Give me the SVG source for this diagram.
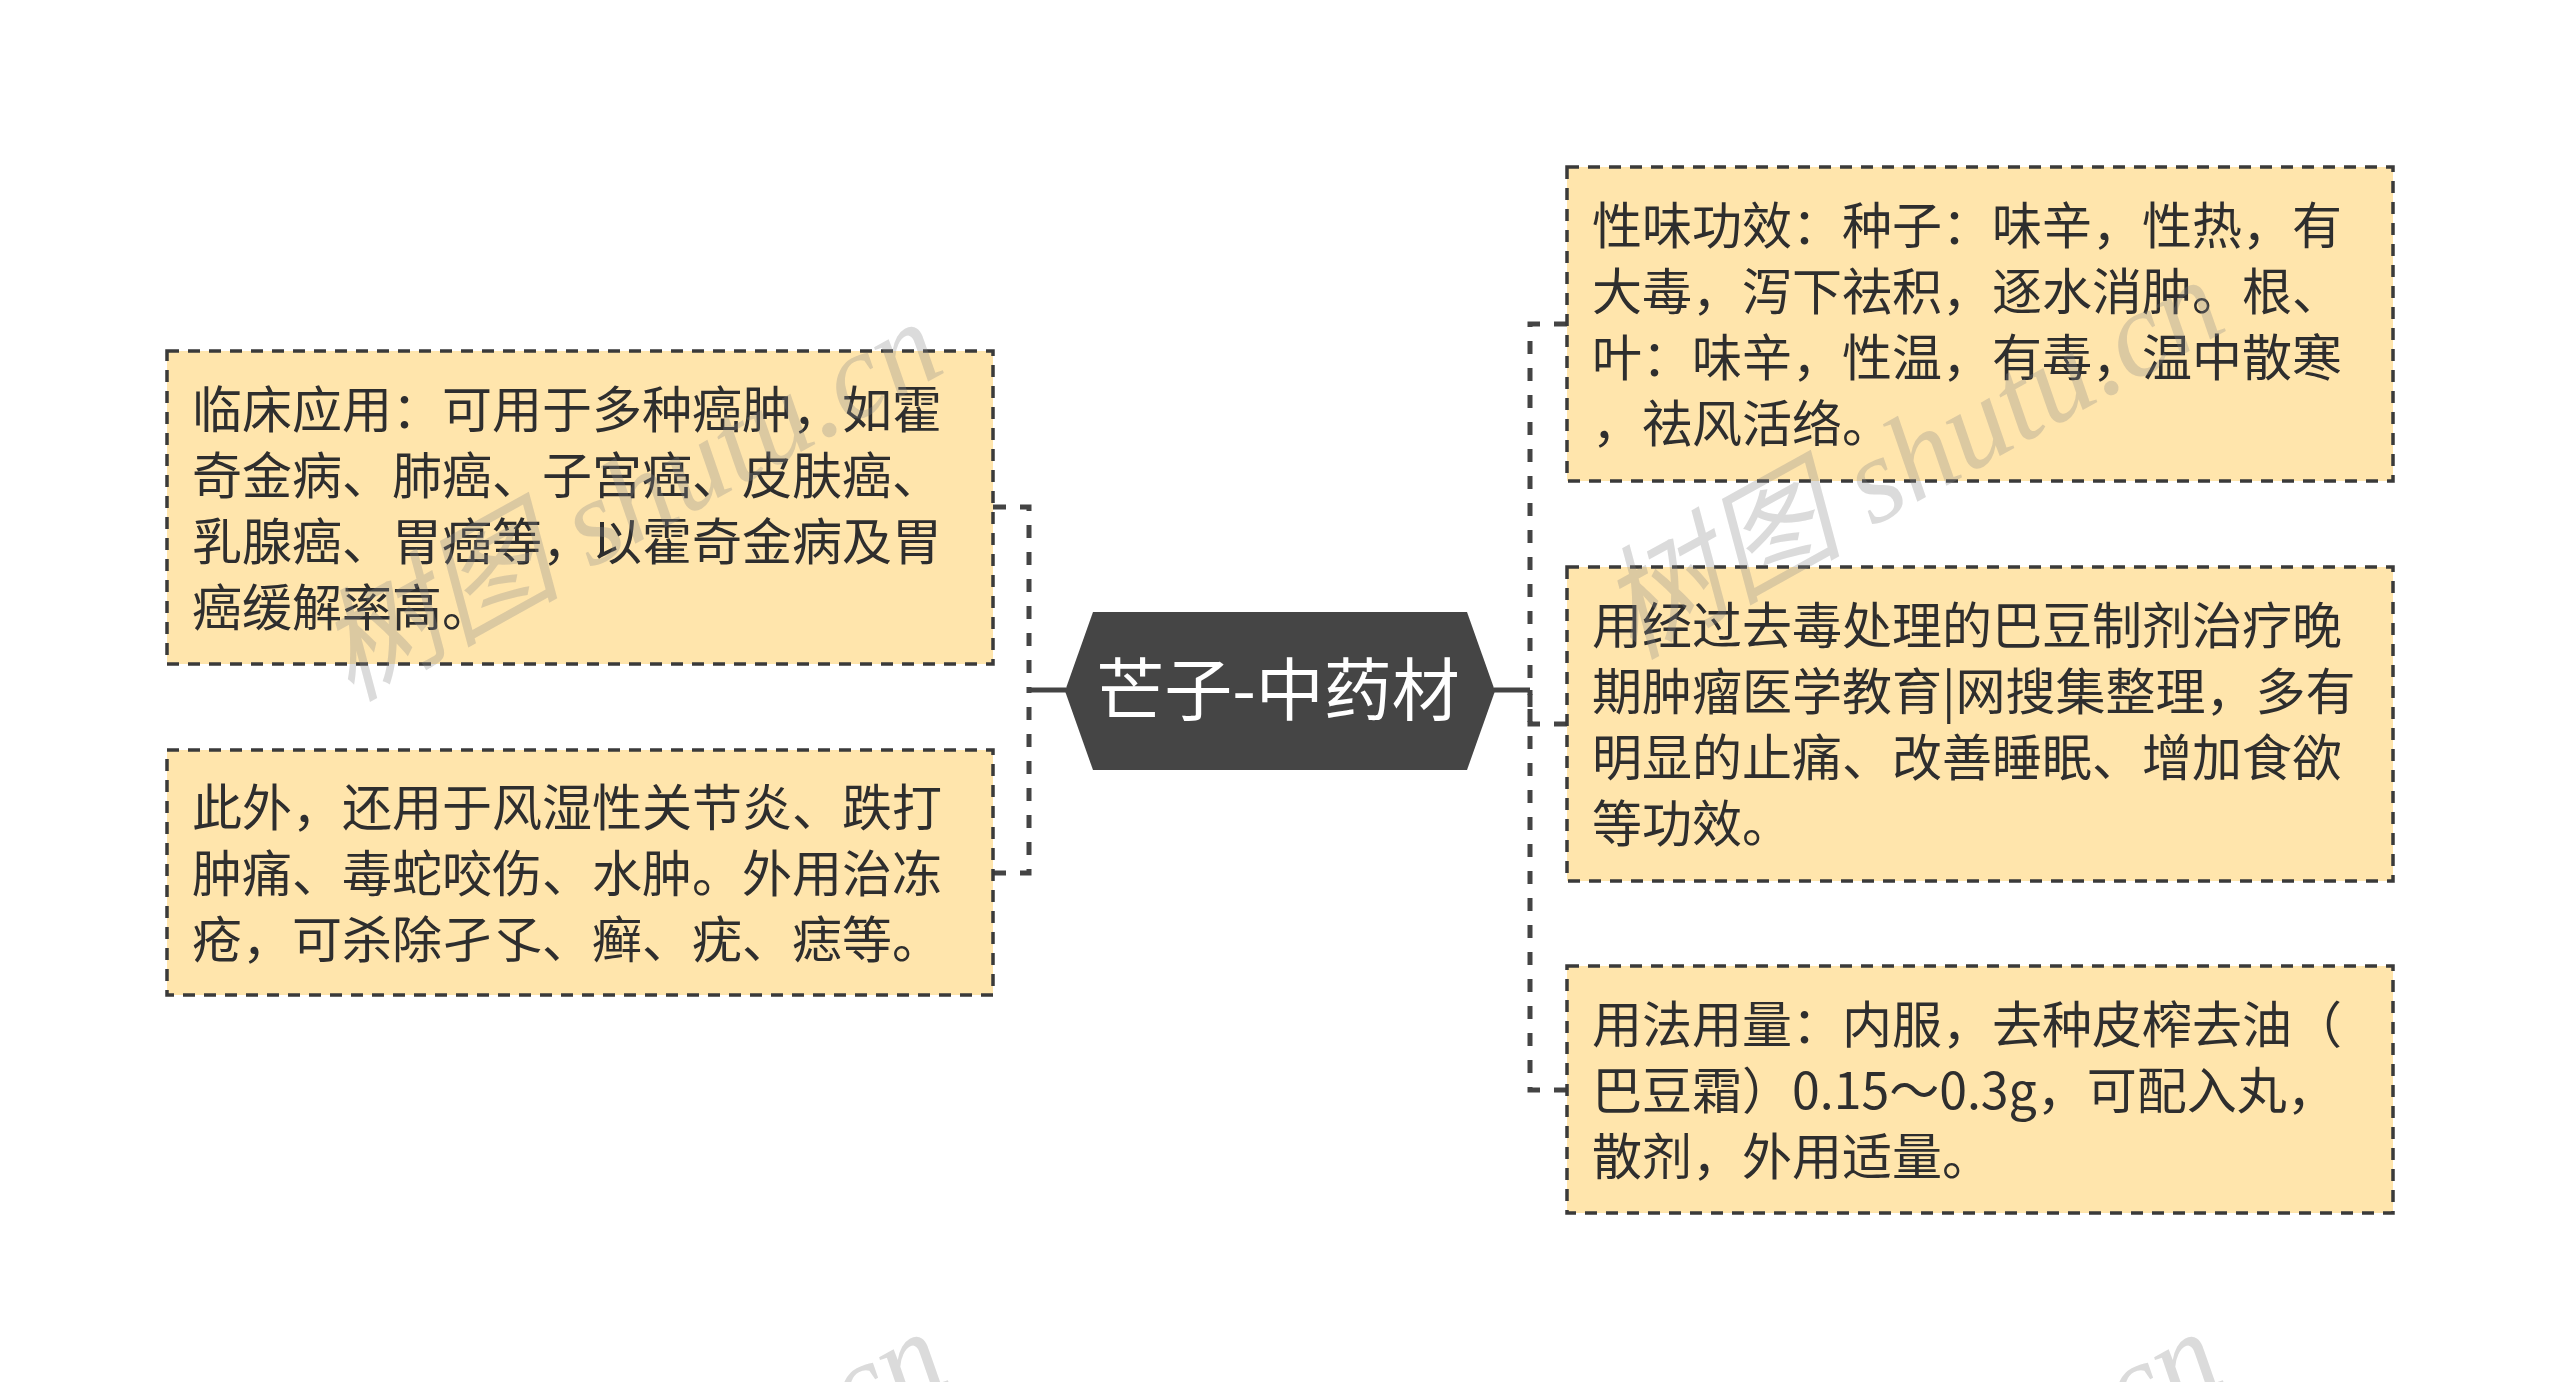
<svg xmlns="http://www.w3.org/2000/svg" width="2560" height="1382" viewBox="0 0 2560 1382">
<style>
.bg{fill:#ffffff}
.box{fill:#ffe5ac;stroke:#3a3a3a;stroke-width:3.5;stroke-dasharray:12 9}
.txt{font-family:"Noto Sans CJK SC","Noto Sans",sans-serif;font-size:50px;fill:#2e2e2e}
.center{fill:#454545}
.ctxt{font-family:"Noto Sans CJK SC","Noto Sans",sans-serif;font-size:68px;fill:#ffffff}
.dash{fill:none;stroke:#444444;stroke-width:5;stroke-dasharray:13 14}
.solid{fill:none;stroke:#444444;stroke-width:5}
.wm{font-family:"Liberation Serif","Noto Sans CJK SC",serif;font-style:italic;font-size:122px;fill:#888888;fill-opacity:0.3}
</style>
<rect class="bg" x="0" y="0" width="2560" height="1382"/>
<g id="connectors">
<path class="dash" d="M993,507 H1029 V690"/>
<path class="dash" d="M993,873 H1029 V690"/>
<path class="solid" d="M1029,690 H1066"/>
<path class="dash" d="M1567,324 H1530 V690"/>
<path class="dash" d="M1567,724 H1530 V690"/>
<path class="dash" d="M1567,1090 H1530 V690"/>
<path class="solid" d="M1494,690 H1530"/>
</g>
<g id="center">
<polygon class="center" points="1065,691 1093,612 1467,612 1495,691 1467,770 1093,770"/>
<text class="ctxt" x="1278" y="715" text-anchor="middle">芒子-中药材</text>
</g>
<g id="left1">
<rect class="box" x="167" y="351" width="826" height="313"/>
<text class="txt" x="192" y="427.5">临床应用：可用于多种癌肿，如霍</text>
<text class="txt" x="192" y="493.5">奇金病、肺癌、子宫癌、皮肤癌、</text>
<text class="txt" x="192" y="559.5">乳腺癌、胃癌等，以霍奇金病及胃</text>
<text class="txt" x="192" y="625.5">癌缓解率高。</text>
</g>
<g id="left2">
<rect class="box" x="167" y="750" width="826" height="245"/>
<text class="txt" x="192" y="825.5">此外，还用于风湿性关节炎、跌打</text>
<text class="txt" x="192" y="891.5">肿痛、毒蛇咬伤、水肿。外用治冻</text>
<text class="txt" x="192" y="957.5">疮，可杀除孑孓、癣、疣、痣等。</text>
</g>
<g id="right1">
<rect class="box" x="1567" y="167" width="826" height="314"/>
<text class="txt" x="1592" y="244">性味功效：种子：味辛，性热，有</text>
<text class="txt" x="1592" y="310">大毒，泻下祛积，逐水消肿。根、</text>
<text class="txt" x="1592" y="376">叶：味辛，性温，有毒，温中散寒</text>
<text class="txt" x="1592" y="442">，祛风活络。</text>
</g>
<g id="right2">
<rect class="box" x="1567" y="567" width="826" height="314"/>
<text class="txt" x="1592" y="644">用经过去毒处理的巴豆制剂治疗晚</text>
<text class="txt" x="1592" y="710">期肿瘤医学教育|网搜集整理，多有</text>
<text class="txt" x="1592" y="776">明显的止痛、改善睡眠、增加食欲</text>
<text class="txt" x="1592" y="842">等功效。</text>
</g>
<g id="right3">
<rect class="box" x="1567" y="966" width="826" height="247"/>
<text class="txt" x="1592" y="1042.5">用法用量：内服，去种皮榨去油（</text>
<text class="txt" x="1592" y="1108.5">巴豆霜）0.15～0.3g，可配入丸，</text>
<text class="txt" x="1592" y="1174.5">散剂，外用适量。</text>
</g>
<g id="watermarks">
<text class="wm" transform="translate(350,702) rotate(-29)">树图 shutu.cn</text>
<text class="wm" transform="translate(1632,660) rotate(-29)">树图 shutu.cn</text>
<text class="wm" transform="translate(355,1712) rotate(-29)">树图 shutu.cn</text>
<text class="wm" transform="translate(1630,1712) rotate(-29)">树图 shutu.cn</text>
</g>
</svg>
